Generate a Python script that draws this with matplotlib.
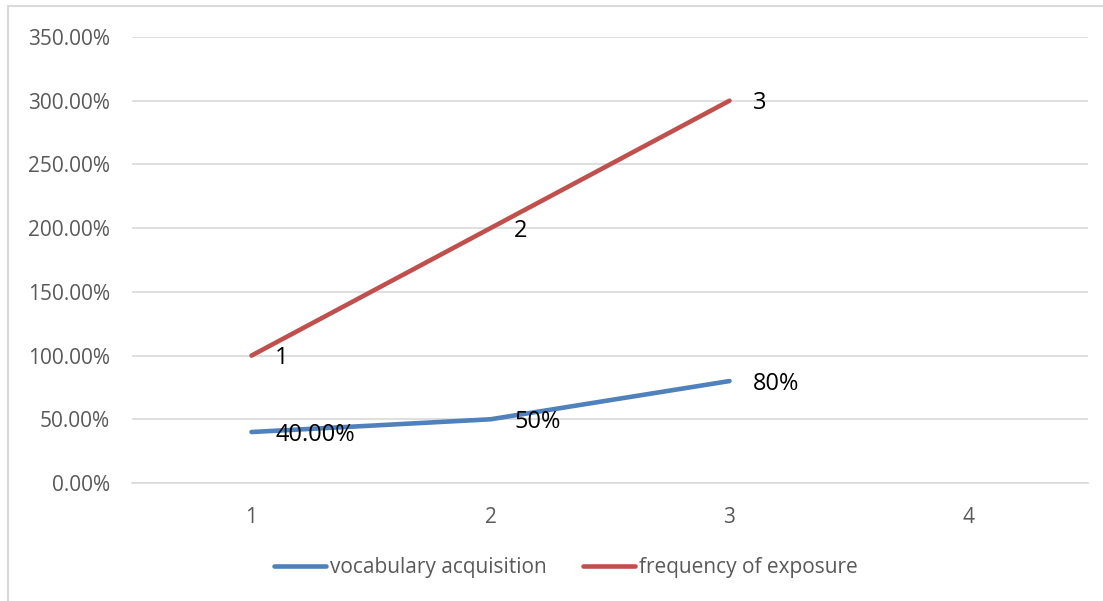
import matplotlib.pyplot as plt
from matplotlib.patches import Rectangle
from matplotlib.ticker import FuncFormatter

plt.rcParams['font.family'] = ['Open Sans', 'DejaVu Sans']

# data
categories = [1, 2, 3]
x_ticks = [1, 2, 3, 4]
vocab = [0.40, 0.50, 0.80]
exposure = [1.0, 2.0, 3.0]
vocab_labels = ['40.00%', '50%', '80%']
exposure_labels = ['1', '2', '3']

BLUE = '#4F81BD'
RED = '#C0504D'
GRID = '#D9D9D9'
TICK = '#595959'

fig = plt.figure(figsize=(11.03, 6.01), dpi=100)
ax = fig.add_axes([132 / 1103, 1 - 483 / 601, (1088 - 132) / 1103, (483 - 37) / 601])

# outer chart border
fig.patches.append(Rectangle((8 / 1103, -0.01), 1.1, 1 - 6 / 601 + 0.01,
                             transform=fig.transFigure, fill=False,
                             edgecolor=GRID, lw=1.5))

l1, = ax.plot(categories, vocab, color=BLUE, lw=3.3, solid_capstyle='round',
              label='vocabulary acquisition')
l2, = ax.plot(categories, exposure, color=RED, lw=3.3, solid_capstyle='round',
              label='frequency of exposure')

for x, y, t in zip(categories, vocab, vocab_labels):
    ax.annotate(t, (x, y), xytext=(17, -2), textcoords='offset points',
                ha='left', va='center', fontsize=17, color='black')
for x, y, t in zip(categories, exposure, exposure_labels):
    ax.annotate(t, (x, y), xytext=(17, -2), textcoords='offset points',
                ha='left', va='center', fontsize=17, color='black')

ax.set_xlim(0.5, 4.5)
ax.set_ylim(0, 3.5)
ax.set_yticks([0, 0.5, 1.0, 1.5, 2.0, 2.5, 3.0, 3.5])
ax.yaxis.set_major_formatter(FuncFormatter(lambda v, p: f'{v * 100:.2f}%'))
ax.set_xticks(x_ticks)
ax.set_xticklabels([str(t) for t in x_ticks])
ax.tick_params(axis='both', length=0, colors=TICK, labelsize=15)
ax.tick_params(axis='y', pad=16)
ax.tick_params(axis='x', pad=17)
ax.grid(axis='y', color=GRID, lw=1.2)
ax.set_axisbelow(True)
for s in ['left', 'right', 'top']:
    ax.spines[s].set_visible(False)
ax.spines['bottom'].set_color(GRID)
ax.spines['bottom'].set_linewidth(1.2)

leg = fig.legend(handles=[l1, l2], loc='center', bbox_to_anchor=(0.513, 1 - 568 / 601),
                 ncol=2, frameon=False, fontsize=15, handlelength=2.5,
                 handletextpad=0.2, columnspacing=1.7)
for t in leg.get_texts():
    t.set_color(TICK)

fig.savefig('out.png', dpi=100)
